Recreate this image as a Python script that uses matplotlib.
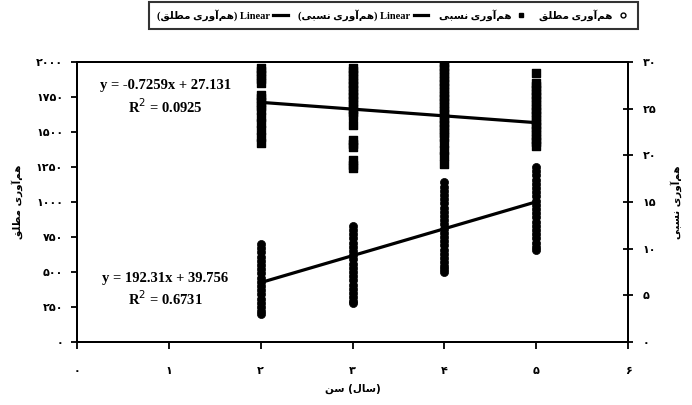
import matplotlib
matplotlib.use("Agg")
import matplotlib.pyplot as plt
from matplotlib.lines import Line2D

# ---------------- data ----------------
ages = [2, 3, 4, 5]
abs_2 = [700, 670, 640, 610, 580, 550, 520, 490, 460, 430, 400, 370, 340, 310, 280, 250, 225, 200]
abs_3 = [830, 800, 770, 740, 710, 680, 650, 620, 590, 560, 530, 500, 470, 440, 410, 380, 350, 320, 295, 280]
abs_4 = [1140, 1110, 1080, 1050, 1020, 990, 960, 930, 900, 870, 840, 810, 780, 750, 720, 690,
         660, 630, 600, 570, 540, 520, 500]
abs_5 = [1250, 1220, 1190, 1160, 1130, 1100, 1070, 1040, 1010, 980, 950, 920, 890, 860, 830,
         800, 770, 740, 710, 680, 660]
rel_2 = [29.4, 29.0, 28.6, 28.2, 27.8, 26.5, 26.1, 25.7, 25.3, 24.9, 24.1, 23.5, 22.7, 22.0, 21.3]
rel_3 = [29.4, 29.0, 28.6, 28.2, 27.8, 27.4, 27.0, 26.6, 26.2, 25.8, 25.4, 25.0, 24.6, 24.2,
         23.3, 21.6, 21.2, 20.9, 19.5, 19.0, 18.6]
rel_4 = [30.0, 29.6, 29.2, 28.8, 28.4, 28.0, 27.6, 27.2, 26.8, 26.4, 26.0, 25.6, 25.2, 24.8,
         24.4, 24.0, 23.6, 23.2, 22.8, 22.4, 22.0, 21.3, 20.6, 19.9, 19.1]
rel_5 = [28.8, 27.8, 27.4, 27.0, 26.6, 26.2, 25.8, 25.4, 25.0, 24.6, 24.2, 23.8, 23.4, 23.0,
         22.6, 22.2, 21.8, 21.4, 21.0]
abs_slope, abs_intercept = 192.31, 39.756
rel_slope, rel_intercept = -0.7259, 27.131
eq_abs = "y = 192.31x + 39.756\nR$^{2}$ = 0.6731"
eq_rel = "y = -0.7259x + 27.131\nR$^{2}$ = 0.0925"
x_ticks = [0, 1, 2, 3, 4, 5, 6]
x_ticklabels = ["۰", "۱", "۲", "۳", "۴", "۵", "۶"]
left_ticks = [0, 250, 500, 750, 1000, 1250, 1500, 1750, 2000]
left_ticklabels = ["۰", "۲۵۰", "۵۰۰", "۷۵۰", "۱۰۰۰", "۱۲۵۰", "۱۵۰۰", "۱۷۵۰", "۲۰۰۰"]
right_ticks = [0, 5, 10, 15, 20, 25, 30]
right_ticklabels = ["۰", "۵", "۱۰", "۱۵", "۲۰", "۲۵", "۳۰"]
name_abs = "هم‌آوری مطلق"
name_rel = "هم‌آوری نسبی"
x_word = "سن"
x_unit = "سال"

# ------------- minimal Arabic shaping (visual order) -------------
FORMS = {  # iso, fin, init, med  (None -> right-joining only)
    "ه": ("\uFEE9", "\uFEEA", "\uFEEB", "\uFEEC"),
    "م": ("\uFEE1", "\uFEE2", "\uFEE3", "\uFEE4"),
    "آ": ("\uFE81", "\uFE82", None, None),
    "و": ("\uFEED", "\uFEEE", None, None),
    "ر": ("\uFEAD", "\uFEAE", None, None),
    "ی": ("\uFEEF", "\uFEF0", "\uFEF3", "\uFEF4"),
    "ط": ("\uFEC1", "\uFEC2", "\uFEC3", "\uFEC4"),
    "ل": ("\uFEDD", "\uFEDE", "\uFEDF", "\uFEE0"),
    "ق": ("\uFED5", "\uFED6", "\uFED7", "\uFED8"),
    "ن": ("\uFEE5", "\uFEE6", "\uFEE7", "\uFEE8"),
    "س": ("\uFEB1", "\uFEB2", "\uFEB3", "\uFEB4"),
    "ب": ("\uFE8F", "\uFE90", "\uFE91", "\uFE92"),
    "ا": ("\uFE8D", "\uFE8E", None, None),
}


def dual(c):
    return c in FORMS and FORMS[c][2] is not None


def ar(s):
    out = []
    for i, c in enumerate(s):
        if c not in FORMS:
            if c != "\u200c":
                out.append(c)
            continue
        prev = s[i - 1] if i > 0 else ""
        nxt = s[i + 1] if i + 1 < len(s) else ""
        jp = dual(prev)
        jn = dual(c) and nxt in FORMS
        iso, fin, ini, med = FORMS[c]
        if jp and jn:
            out.append(med)
        elif jp:
            out.append(fin)
        elif jn:
            out.append(ini)
        else:
            out.append(iso)
    return "".join(out[::-1])


FAM = ["Liberation Serif", "DejaVu Sans"]
ARF = ["DejaVu Sans"]

fig = plt.figure(figsize=(6.92, 4.05), dpi=100)
ax = fig.add_axes([77 / 692, 63 / 405, 551 / 692, 280 / 405])
ax2 = ax.twinx()

# absolute (left axis)
abs_groups = [abs_2, abs_3, abs_4, abs_5]
for a, vals in zip(ages, abs_groups):
    ax.scatter([a] * len(vals), vals, s=34, marker="o", color="black",
               edgecolor="black", linewidth=0.5, zorder=3)
xl = [ages[0], ages[-1]]
ax.plot(xl, [abs_slope * v + abs_intercept for v in xl], color="black", lw=2.3, zorder=4)

# relative (right axis)
rel_groups = [rel_2, rel_3, rel_4, rel_5]
for a, vals in zip(ages, rel_groups):
    ax2.scatter([a] * len(vals), vals, s=28, marker="s", color="black", zorder=3)
ax2.plot(xl, [rel_slope * v + rel_intercept for v in xl], color="black", lw=2.3, zorder=4)

ax.set_xlim(0, 6)
ax.set_ylim(0, 2000)
ax2.set_ylim(0, 30)
ax.set_xticks(x_ticks)
ax.set_xticklabels(x_ticklabels, family=ARF, fontweight="bold", fontsize=8)
ax.set_yticks(left_ticks)
ax.set_yticklabels(left_ticklabels, family=ARF, fontweight="bold", fontsize=8)
ax2.set_yticks(right_ticks)
ax2.set_yticklabels(right_ticklabels, family=ARF, fontweight="bold", fontsize=8)

ax.tick_params(axis="x", direction="out", length=5, width=1.3, pad=12)
ax.tick_params(axis="y", direction="out", length=4, width=1.3, pad=6)
ax2.tick_params(axis="y", direction="inout", length=7, width=1.3, pad=7)

for a_ in (ax, ax2):
    for sp in a_.spines.values():
        sp.set_linewidth(1.4)
        sp.set_color("black")

ax.set_ylabel(ar(name_abs), family=ARF, fontweight="bold", fontsize=7.5, labelpad=9)
ax2.set_ylabel(ar(name_rel), family=ARF, fontweight="bold", fontsize=7.5, labelpad=10)
ax.set_xlabel(ar(x_word) + " (" + ar(x_unit) + ")", family=ARF, fontweight="bold",
              fontsize=7.5, labelpad=6)

ax.text(0.96, 1745, eq_rel, ha="center", va="center", family=FAM,
        fontweight="bold", fontsize=10.5, linespacing=1.3)
ax.text(0.96, 370, eq_abs, ha="center", va="center", family=FAM,
        fontweight="bold", fontsize=10.5, linespacing=1.3)

handles = [
    Line2D([], [], color="black", lw=2.3),
    Line2D([], [], color="black", lw=2.3),
    Line2D([], [], color="black", marker="s", ls="none", markersize=3.5),
    Line2D([], [], color="black", marker="o", ls="none", markersize=3.5,
           markerfacecolor="white"),
]
labels = [
    "(" + ar(name_abs) + ") Linear",
    "(" + ar(name_rel) + ") Linear",
    ar(name_rel),
    ar(name_abs),
]
leg = fig.legend(handles, labels, loc="center", bbox_to_anchor=(0.569, 0.962), ncol=4,
                 markerfirst=False, frameon=True, fancybox=False, edgecolor="black",
                 prop={"family": FAM, "weight": "bold", "size": 7.5},
                 handlelength=1.4, handletextpad=0.3, columnspacing=1.0,
                 borderpad=0.75)
leg.get_frame().set_linewidth(1.5)

fig.savefig("out.png", dpi=100)
